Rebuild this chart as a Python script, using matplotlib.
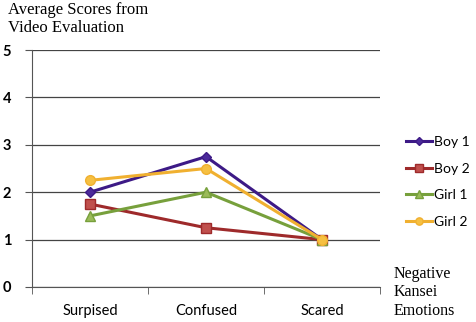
import matplotlib.pyplot as plt
import numpy as np

categories = ['Surpised', 'Confused', 'Scared']
boy1 = [2.0, 2.75, 1.0]
boy2 = [1.75, 1.25, 1.0]
girl1 = [1.5, 2.0, 1.0]
girl2 = [2.25, 2.5, 1.0]

fig = plt.figure(figsize=(4.76, 3.22), dpi=100)
ax = fig.add_axes([32 / 476, 35 / 322, 348 / 476, 237 / 322])

x = np.arange(len(categories))
ax.plot(x, boy1, marker='D', markersize=5, lw=2.2, color='#3d1a86',
        mfc='#4b2a9a', mec='#3d1a86', label='Boy 1')
ax.plot(x, boy2, marker='s', markersize=7, lw=2.2, color='#9e2a2b',
        mfc='#c0504d', mec='#9e2a2b', label='Boy 2')
ax.plot(x, girl1, marker='^', markersize=7, lw=2.2, color='#77a03c',
        mfc='#9bbb59', mec='#77a03c', label='Girl 1')
ax.plot(x, girl2, marker='o', markersize=7, lw=2.2, color='#f0b030',
        mfc='#f6c042', mec='#f0b030', label='Girl 2')

ax.set_xlim(-0.5, 2.5)
ax.set_ylim(0, 5)
ax.set_yticks(range(6))
ax.set_xticks(x)
ax.set_xticklabels(categories, fontsize=10.5, family='Lato')
ax.set_xticks([-0.5, 0.5, 1.5, 2.5], minor=True)
ax.tick_params(axis='x', which='major', length=0, pad=12)
ax.tick_params(axis='x', which='minor', length=5, color='#555555')
ax.tick_params(axis='y', length=5, color='#555555', labelsize=10.5, pad=10)
for lbl in ax.get_yticklabels():
    lbl.set_family('Lato')
    lbl.set_fontweight('bold')

ax.grid(axis='y', color='#444444', lw=0.9)
ax.set_axisbelow(True)
for s in ['top', 'right']:
    ax.spines[s].set_visible(False)
ax.spines['left'].set_color('#555555')
ax.spines['bottom'].set_color('#555555')

fig.text(8 / 476, 1 - 2 / 322, 'Average Scores from\nVideo Evaluation', ha='left', va='top',
         fontsize=12, family='Liberation Serif', linespacing=1.2)
fig.text(394 / 476, 1 - 266 / 322, 'Negative\nKansei\nEmotions', ha='left', va='top',
         fontsize=11.5, family='Liberation Serif', linespacing=1.2)

fig.legend(loc='upper left', bbox_to_anchor=(406 / 476, 1 - 136 / 322), frameon=False,
           prop={'family': 'Lato', 'size': 10}, handlelength=1.9, handletextpad=0.1,
           labelspacing=1.05, borderaxespad=0, borderpad=0, markerscale=0.75)

fig.savefig('out.png', dpi=100)
